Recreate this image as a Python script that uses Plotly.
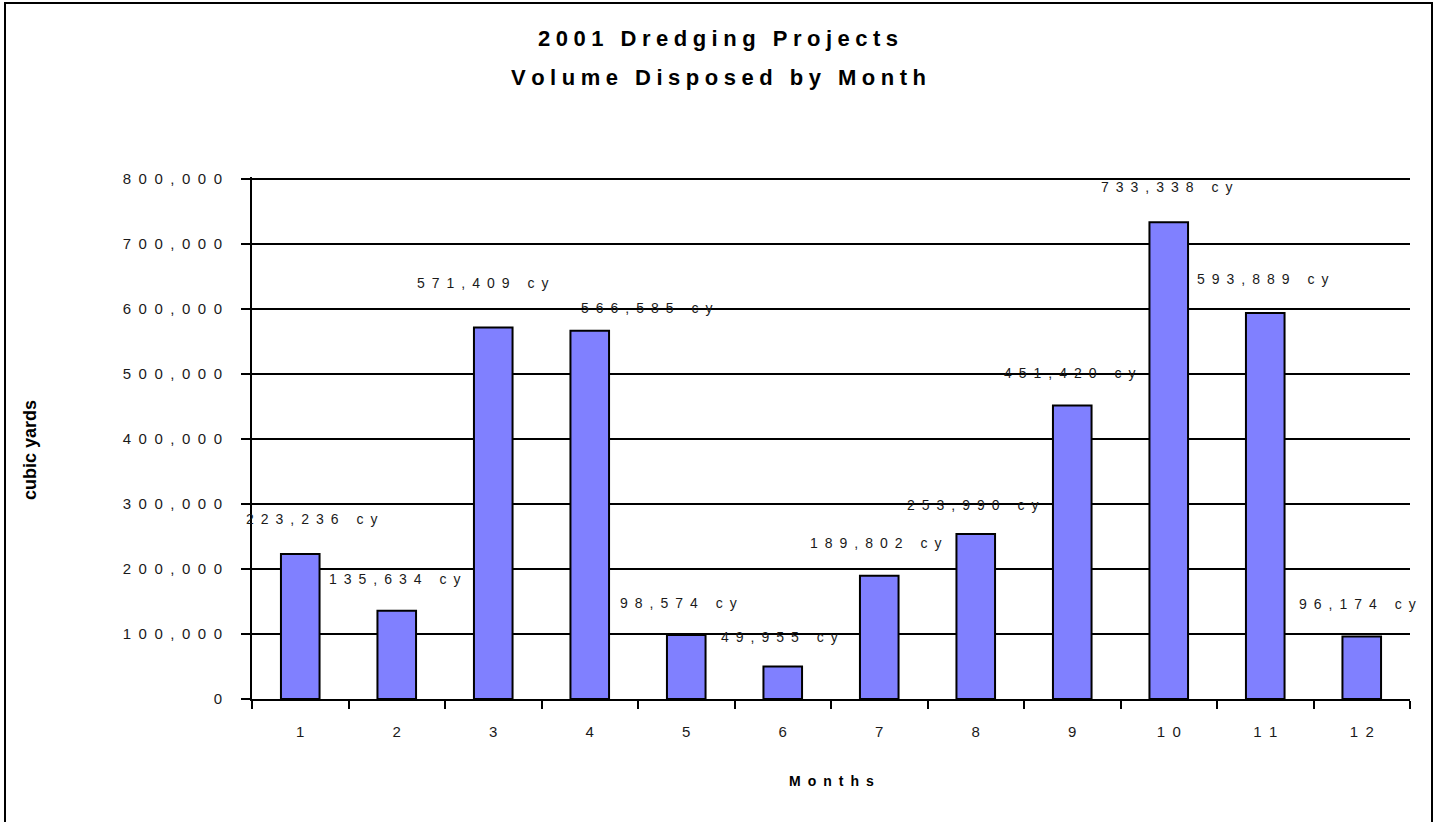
import plotly.graph_objects as go

# ---- data ----
months = ["1", "2", "3", "4", "5", "6", "7", "8", "9", "10", "11", "12"]
volumes = [223236, 135634, 571409, 566585, 98574, 49955, 189802, 253990, 451420, 733338, 593889, 96174]
y_ticks = [0, 100000, 200000, 300000, 400000, 500000, 600000, 700000, 800000]
title_lines = ["2001 Dredging Projects", "Volume Disposed by Month"]
x_title = "Months"
y_title = "cubic yards"

# label offsets (pixels) relative to bar top / category centre
label_dx = [12, -2, -10, 57, -8, -3, -3, -3, -2, -2, -2, -4]
label_dy = [35, 32, 45, 23, 32, 30, 33, 29, 33, 35, 34, 32]

FONT = "Liberation Sans, Arial, sans-serif"
GAP = "\u2002"      # letter spacing for normal texts
TGAP = "\u2005"     # letter spacing for title


def spaced(s, gap=GAP):
    return gap.join(s)


x_labels = [spaced(m) for m in months]
y_ticktext = [spaced(f"{v:,}") for v in y_ticks]

# plot area in pixels (top padded by 2px so the 800,000 gridline is drawn)
W, H = 1439, 822
L, R, T, B = 252, 1410, 177, 699
TOP_GRID = 179
pw, ph = R - L, B - T
y_max = y_ticks[-1] * (B - T) / (B - TOP_GRID)


def px(xp):
    return (xp - L) / pw


def py(yp):
    return (B - yp) / ph


fig = go.Figure()
fig.add_trace(go.Bar(
    x=x_labels, y=volumes, width=0.4,
    marker=dict(color="#8080FF", line=dict(color="black", width=2)),
    hoverinfo="x+y",
))

annotations = []
for i, (v, dx, dy) in enumerate(zip(volumes, label_dx, label_dy)):
    annotations.append(dict(
        x=i, y=v, xref="x", yref="y", text=spaced(f"{v:,} cy"), showarrow=False,
        xanchor="center", yanchor="middle", xshift=dx, yshift=dy,
        font=dict(family=FONT, size=14, color="#1a1a1a"),
    ))

annotations.append(dict(x=px(718), y=py(38), xref="paper", yref="paper",
                        text="<b>" + spaced(title_lines[0], TGAP) + "</b>", showarrow=False,
                        xanchor="center", yanchor="middle",
                        font=dict(family=FONT, size=22, color="black")))
annotations.append(dict(x=px(718), y=py(78), xref="paper", yref="paper",
                        text="<b>" + spaced(title_lines[1], TGAP) + "</b>", showarrow=False,
                        xanchor="center", yanchor="middle",
                        font=dict(family=FONT, size=22, color="black")))
annotations.append(dict(x=px(831), y=py(781), xref="paper", yref="paper",
                        text="<b>" + spaced(x_title) + "</b>", showarrow=False,
                        xanchor="center", yanchor="middle",
                        font=dict(family=FONT, size=14, color="black")))
annotations.append(dict(x=px(30), y=py(450), xref="paper", yref="paper",
                        text="<b>" + y_title + "</b>", showarrow=False, textangle=-90,
                        xanchor="center", yanchor="middle",
                        font=dict(family=FONT, size=18, color="black")))

fig.update_layout(
    width=W, height=H,
    margin=dict(l=L, r=W - R, t=T, b=H - B, pad=0),
    paper_bgcolor="white", plot_bgcolor="white",
    showlegend=False,
    annotations=annotations,
    font=dict(family=FONT, size=14, color="#1a1a1a"),
    shapes=[dict(type="rect", xref="paper", yref="paper",
                 x0=px(5), x1=px(1432), y0=py(840), y1=py(3),
                 line=dict(color="black", width=2), fillcolor="rgba(0,0,0,0)", layer="above")],
    xaxis=dict(
        type="category", range=[-0.5, len(months) - 0.5], autorange=False,
        showgrid=False, showline=True, linecolor="black", linewidth=2,
        ticks="outside", tickson="boundaries", ticklen=8, tickwidth=2, tickcolor="black",
        ticklabelstandoff=18, tickfont=dict(family=FONT, size=15, color="#1a1a1a"),
        zeroline=False, fixedrange=True,
    ),
    yaxis=dict(
        range=[0, y_max], autorange=False, tickmode="array", tickvals=y_ticks, ticktext=y_ticktext,
        showgrid=True, gridcolor="black", gridwidth=2,
        showline=True, linecolor="black", linewidth=2,
        ticks="outside", ticklen=9, tickwidth=2, tickcolor="black",
        ticklabelstandoff=16, tickfont=dict(family=FONT, size=15, color="#1a1a1a"),
        zeroline=False, fixedrange=True,
    ),
)

fig.write_html(
    "out.html",
    config={"displayModeBar": False},
    post_script="document.body.style.margin='0';document.body.style.overflow='hidden';",
)
